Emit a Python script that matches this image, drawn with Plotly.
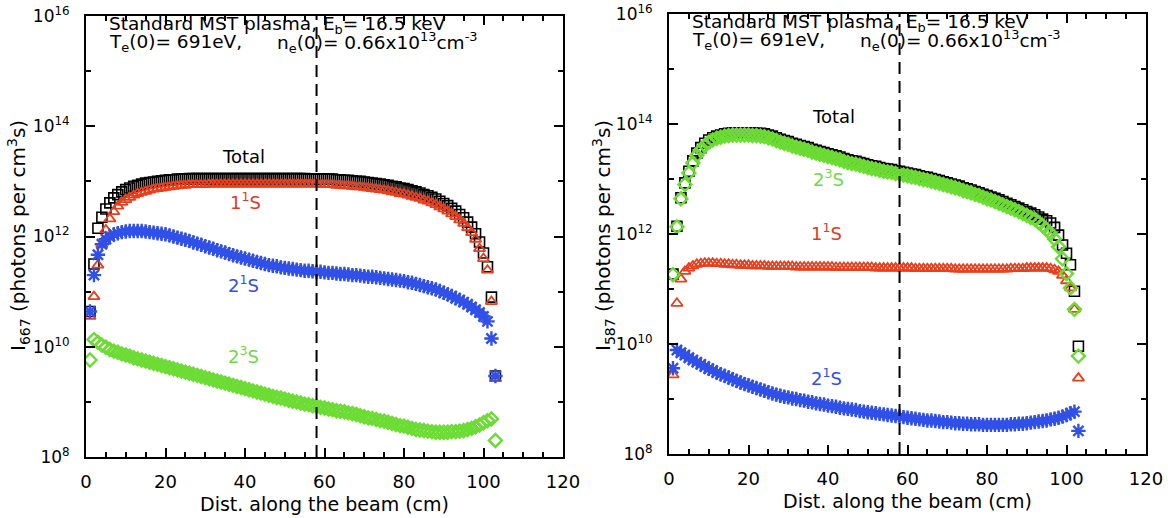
import numpy as np
import plotly.graph_objects as go

W, H = 1168, 518
FONT = "DejaVu Sans"

# ---------------- data (log10 of emission rate), x = distance along beam (cm)
dist_cm = list(range(1, 104))

# I_667 panel
l667_total = [10.64, 11.50, 12.15, 12.35, 12.50, 12.61, 12.70, 12.76, 12.81, 12.85,
              12.88, 12.91, 12.93, 12.95, 12.97, 12.98, 12.99, 13.00, 13.01, 13.02,
              13.03, 13.03, 13.04, 13.04, 13.04, 13.05, 13.05, 13.05, 13.05, 13.05,
              13.05, 13.05, 13.05, 13.05, 13.05, 13.05, 13.05, 13.05, 13.05, 13.05,
              13.05, 13.05, 13.05, 13.05, 13.05, 13.05, 13.05, 13.05, 13.05, 13.05,
              13.05, 13.05, 13.05, 13.05, 13.05, 13.04, 13.04, 13.04, 13.04, 13.04,
              13.04, 13.04, 13.03, 13.03, 13.02, 13.02, 13.01, 13.00, 13.00, 12.99,
              12.98, 12.97, 12.96, 12.95, 12.94, 12.93, 12.91, 12.90, 12.88, 12.87,
              12.85, 12.83, 12.81, 12.79, 12.76, 12.74, 12.71, 12.68, 12.64, 12.60,
              12.56, 12.51, 12.46, 12.40, 12.34, 12.26, 12.17, 12.05, 11.90, 11.70,
              11.45, 10.90, 9.47]
l667_1s1 = [10.55, 10.91, 11.48, 11.85, 12.12, 12.32, 12.45, 12.55, 12.62, 12.67,
            12.71, 12.75, 12.78, 12.80, 12.82, 12.84, 12.86, 12.87, 12.88, 12.89,
            12.90, 12.91, 12.92, 12.93, 12.93, 12.94, 12.94, 12.94, 12.94, 12.94,
            12.95, 12.95, 12.95, 12.95, 12.95, 12.95, 12.95, 12.95, 12.95, 12.95,
            12.95, 12.95, 12.95, 12.95, 12.95, 12.95, 12.95, 12.95, 12.95, 12.95,
            12.95, 12.95, 12.95, 12.95, 12.95, 12.95, 12.95, 12.95, 12.94, 12.94,
            12.94, 12.94, 12.93, 12.93, 12.92, 12.92, 12.91, 12.90, 12.90, 12.89,
            12.88, 12.87, 12.86, 12.85, 12.84, 12.83, 12.81, 12.80, 12.78, 12.77,
            12.75, 12.73, 12.71, 12.69, 12.66, 12.64, 12.61, 12.58, 12.54, 12.50,
            12.46, 12.41, 12.36, 12.30, 12.24, 12.16, 12.07, 11.95, 11.78, 11.60,
            11.39, 10.82, 9.42]
l667_2s1 = [10.64, 11.30, 11.67, 11.86, 11.95, 12.00, 12.04, 12.06, 12.08, 12.09,
            12.10, 12.10, 12.10, 12.10, 12.09, 12.08, 12.07, 12.06, 12.05, 12.04,
            12.02, 12.00, 11.98, 11.96, 11.94, 11.92, 11.89, 11.87, 11.85, 11.82,
            11.80, 11.78, 11.75, 11.73, 11.71, 11.68, 11.66, 11.64, 11.62, 11.60,
            11.58, 11.56, 11.54, 11.52, 11.50, 11.48, 11.47, 11.46, 11.44, 11.43,
            11.42, 11.41, 11.40, 11.39, 11.38, 11.38, 11.37, 11.36, 11.36, 11.35,
            11.34, 11.34, 11.33, 11.32, 11.32, 11.31, 11.30, 11.30, 11.29, 11.28,
            11.27, 11.27, 11.26, 11.25, 11.24, 11.23, 11.22, 11.21, 11.20, 11.19,
            11.17, 11.16, 11.14, 11.12, 11.10, 11.08, 11.06, 11.04, 11.01, 10.98,
            10.95, 10.92, 10.88, 10.85, 10.81, 10.77, 10.72, 10.67, 10.62, 10.55,
            10.46, 10.15, 9.47]
l667_2s3 = [9.76, 10.13, 10.08, 10.03, 9.99, 9.95, 9.92, 9.90, 9.87, 9.85,
            9.83, 9.80, 9.78, 9.76, 9.74, 9.72, 9.70, 9.68, 9.66, 9.64,
            9.62, 9.60, 9.58, 9.56, 9.54, 9.52, 9.50, 9.48, 9.46, 9.44,
            9.42, 9.40, 9.38, 9.36, 9.34, 9.32, 9.30, 9.28, 9.26, 9.24,
            9.22, 9.20, 9.18, 9.16, 9.14, 9.12, 9.10, 9.08, 9.07, 9.05,
            9.03, 9.01, 9.00, 8.98, 8.96, 8.95, 8.93, 8.92, 8.90, 8.89,
            8.87, 8.86, 8.84, 8.83, 8.82, 8.80, 8.79, 8.77, 8.75, 8.73,
            8.71, 8.70, 8.68, 8.66, 8.65, 8.63, 8.61, 8.59, 8.57, 8.56,
            8.54, 8.52, 8.50, 8.49, 8.48, 8.47, 8.46, 8.45, 8.45, 8.45,
            8.45, 8.46, 8.46, 8.47, 8.48, 8.50, 8.52, 8.55, 8.58, 8.62,
            8.66, 8.69, 8.30]

# I_587 panel
l587_total = [11.27, 12.14, 12.66, 12.93, 13.14, 13.33, 13.47, 13.57, 13.65, 13.71,
              13.75, 13.78, 13.80, 13.82, 13.83, 13.84, 13.84, 13.84, 13.84, 13.84,
              13.84, 13.83, 13.83, 13.82, 13.80, 13.78, 13.75, 13.72, 13.70, 13.68,
              13.65, 13.63, 13.61, 13.59, 13.57, 13.54, 13.52, 13.50, 13.48, 13.46,
              13.44, 13.42, 13.40, 13.37, 13.35, 13.33, 13.32, 13.30, 13.28, 13.26,
              13.24, 13.23, 13.21, 13.19, 13.18, 13.17, 13.15, 13.14, 13.12, 13.11,
              13.09, 13.08, 13.06, 13.04, 13.03, 13.01, 12.99, 12.97, 12.95, 12.93,
              12.91, 12.89, 12.87, 12.84, 12.82, 12.80, 12.77, 12.75, 12.72, 12.70,
              12.67, 12.65, 12.62, 12.59, 12.56, 12.53, 12.50, 12.47, 12.44, 12.41,
              12.38, 12.35, 12.31, 12.27, 12.24, 12.20, 12.12, 11.98, 11.80, 11.65,
              11.44, 10.96, 9.96]
l587_2s3 = [11.26, 12.13, 12.64, 12.90, 13.11, 13.29, 13.43, 13.53, 13.61, 13.67,
            13.71, 13.74, 13.76, 13.78, 13.79, 13.80, 13.80, 13.80, 13.80, 13.80,
            13.79, 13.79, 13.78, 13.77, 13.75, 13.73, 13.70, 13.67, 13.65, 13.63,
            13.60, 13.58, 13.56, 13.54, 13.52, 13.49, 13.47, 13.45, 13.43, 13.41,
            13.39, 13.37, 13.35, 13.32, 13.30, 13.28, 13.27, 13.25, 13.23, 13.21,
            13.19, 13.18, 13.16, 13.14, 13.13, 13.12, 13.10, 13.09, 13.07, 13.06,
            13.04, 13.03, 13.01, 12.99, 12.98, 12.96, 12.94, 12.92, 12.90, 12.88,
            12.86, 12.84, 12.82, 12.79, 12.77, 12.75, 12.72, 12.70, 12.67, 12.64,
            12.62, 12.59, 12.56, 12.53, 12.50, 12.47, 12.44, 12.41, 12.37, 12.34,
            12.30, 12.27, 12.21, 12.15, 12.08, 12.01, 11.91, 11.77, 11.55, 11.28,
            11.02, 10.63, 9.78]
l587_1s1 = [9.44, 10.74, 11.18, 11.32, 11.38, 11.42, 11.45, 11.46, 11.47, 11.47,
            11.47, 11.46, 11.46, 11.45, 11.45, 11.44, 11.44, 11.43, 11.43, 11.43,
            11.42, 11.42, 11.42, 11.42, 11.41, 11.41, 11.41, 11.41, 11.41, 11.41,
            11.41, 11.40, 11.40, 11.40, 11.40, 11.40, 11.40, 11.40, 11.40, 11.40,
            11.40, 11.39, 11.39, 11.39, 11.39, 11.39, 11.39, 11.39, 11.39, 11.39,
            11.39, 11.38, 11.38, 11.38, 11.38, 11.38, 11.38, 11.38, 11.38, 11.38,
            11.38, 11.37, 11.37, 11.37, 11.37, 11.37, 11.37, 11.37, 11.37, 11.37,
            11.37, 11.36, 11.36, 11.36, 11.36, 11.36, 11.36, 11.36, 11.36, 11.36,
            11.36, 11.36, 11.36, 11.36, 11.36, 11.37, 11.37, 11.37, 11.37, 11.38,
            11.38, 11.38, 11.38, 11.38, 11.38, 11.37, 11.35, 11.32, 11.25, 11.15,
            11.02, 10.63, 9.38]
l587_2s1 = [9.56, 9.89, 9.84, 9.80, 9.75, 9.71, 9.67, 9.63, 9.59, 9.55,
            9.52, 9.48, 9.45, 9.42, 9.39, 9.36, 9.33, 9.30, 9.27, 9.25,
            9.22, 9.20, 9.17, 9.15, 9.12, 9.10, 9.08, 9.06, 9.04, 9.03,
            9.01, 9.00, 8.98, 8.97, 8.95, 8.94, 8.92, 8.91, 8.90, 8.88,
            8.87, 8.86, 8.84, 8.83, 8.82, 8.81, 8.80, 8.78, 8.77, 8.76,
            8.75, 8.74, 8.73, 8.72, 8.71, 8.70, 8.69, 8.68, 8.67, 8.66,
            8.65, 8.64, 8.63, 8.62, 8.61, 8.61, 8.60, 8.59, 8.58, 8.58,
            8.57, 8.56, 8.56, 8.55, 8.55, 8.54, 8.54, 8.54, 8.53, 8.53,
            8.53, 8.53, 8.53, 8.53, 8.53, 8.54, 8.54, 8.55, 8.55, 8.56,
            8.57, 8.58, 8.59, 8.60, 8.61, 8.63, 8.64, 8.66, 8.68, 8.71,
            8.74, 8.77, 8.42]

for arr in (l667_total, l667_1s1, l667_2s1, l667_2s3,
            l587_total, l587_2s3, l587_1s1, l587_2s1):
    assert len(arr) == len(dist_cm), len(arr)

dashed_cm = 58
x_ticks = [0, 20, 40, 60, 80, 100, 120]
y_major = [1e8, 1e10, 1e12, 1e14, 1e16]
y_major_text = ["10<sup>8</sup>", "10<sup>10</sup>", "10<sup>12</sup>",
                "10<sup>14</sup>", "10<sup>16</sup>"]
y_minor = [1e9, 1e11, 1e13, 1e15]

C_BLACK = "#000000"
C_RED = "#e8401e"
C_BLUE = "#3050e8"
C_GREEN = "#6cdc34"

# ---------------- figure
fig = go.Figure()


def add_series(logvals, xa, ya, symbol, color, size, lw):
    fig.add_trace(go.Scatter(
        x=dist_cm, y=10 ** np.array(logvals), mode="markers",
        xaxis=xa, yaxis=ya, showlegend=False,
        marker=dict(symbol=symbol, size=size, color=color,
                    line=dict(color=color, width=lw))))


# left panel (draw order: total, 1s1, 2s1, 2s3)
add_series(l667_total, "x", "y", "square-open", C_BLACK, 10, 1.6)
add_series(l667_1s1, "x", "y", "triangle-up-open", C_RED, 10, 1.8)
add_series(l667_2s1, "x", "y", "asterisk-open", C_BLUE, 12, 2.4)
add_series(l667_2s3, "x", "y", "diamond-open", C_GREEN, 10, 2.4)

# right panel
add_series(l587_total, "x2", "y2", "square-open", C_BLACK, 10, 1.6)
add_series(l587_1s1, "x2", "y2", "triangle-up-open", C_RED, 10, 1.8)
add_series(l587_2s1, "x2", "y2", "asterisk-open", C_BLUE, 12, 2.4)
add_series(l587_2s3, "x2", "y2", "diamond-open", C_GREEN, 10, 2.4)


def xaxis(domain, anchor):
    return dict(domain=domain, anchor=anchor, range=[0, 120], automargin=False,
                tickmode="array", tickvals=x_ticks,
                ticks="inside", ticklen=9, tickwidth=1.5, tickcolor="black",
                showline=True, linecolor="black", linewidth=2,
                mirror="allticks", showgrid=False, zeroline=False,
                minor=dict(dtick=5, ticks="inside", ticklen=5, tickwidth=1.5,
                           tickcolor="black", showgrid=False),
                tickfont=dict(family=FONT, size=18, color="black"),
                ticklabelstandoff=7)


def yaxis(domain, anchor):
    return dict(domain=domain, anchor=anchor, type="log", range=[8, 16],
                automargin=False,
                tickmode="array", tickvals=y_major, ticktext=y_major_text,
                ticks="inside", ticklen=9, tickwidth=1.5, tickcolor="black",
                showline=True, linecolor="black", linewidth=2,
                mirror="allticks", showgrid=False, zeroline=False,
                minor=dict(tickvals=y_minor, ticks="inside", ticklen=5,
                           tickwidth=1.5, tickcolor="black", showgrid=False),
                tickfont=dict(family=FONT, size=17, color="black"),
                ticklabelstandoff=11)


L = dict(x0=86, x1=563, top=16, bot=457)
R = dict(x0=669, x1=1146, top=14, bot=454)

fig.update_layout(
    width=W, height=H, margin=dict(l=0, r=0, t=0, b=0, autoexpand=False),
    paper_bgcolor="white", plot_bgcolor="white",
    xaxis=xaxis([L["x0"] / W, L["x1"] / W], "y"),
    yaxis=yaxis([1 - L["bot"] / H, 1 - L["top"] / H], "x"),
    xaxis2=xaxis([R["x0"] / W, R["x1"] / W], "y2"),
    yaxis2=yaxis([1 - R["bot"] / H, 1 - R["top"] / H], "x2"),
)

# dashed vertical lines
for xr, yr in (("x", "y domain"), ("x2", "y2 domain")):
    fig.add_shape(type="line", xref=xr, yref=yr, x0=dashed_cm, x1=dashed_cm,
                  y0=0, y1=1, line=dict(color="black", width=2, dash="12px,7px"))

annots = []


def ann(text, xp, yp, size, xanchor="left", angle=0):
    annots.append(dict(text=text, x=xp / W, y=1 - yp / H, xref="paper",
                       yref="paper", xanchor=xanchor, yanchor="middle",
                       showarrow=False, textangle=angle,
                       font=dict(family=FONT, size=size, color="black")))


for P, ylab, ytx in ((L, "I<sub>667</sub> (photons per cm<sup>3</sup>s)", 18),
                     (R, "I<sub>587</sub> (photons per cm<sup>3</sup>s)", 603)):
    ox = P["x0"]
    ann("Standard MST plasma, E<sub>b</sub>= 16.5 keV", ox + 21, P["top"] + 9, 18.5)
    ann("T<sub>e</sub>(0)= 691eV,", ox + 21, P["top"] + 27, 18.5)
    ann("n<sub>e</sub>(0)= 0.66x10<sup>13</sup>cm<sup>-3</sup>", ox + 189, P["top"] + 27, 18.5)
    ann("Dist. along the beam (cm)", (P["x0"] + P["x1"]) / 2, P["bot"] + 47, 19,
        xanchor="center")
    ann(ylab, ytx, 236, 20, xanchor="center", angle=-90)

fig.update_layout(annotations=annots)

# curve labels (data coordinates; log axes take log10 positions)
lab_font = lambda c: dict(family=FONT, size=18, color=c)
labels_left = [("Total", 39.5, 13.45, C_BLACK), ("1<sup>1</sup>S", 40, 12.65, "#e03a22"),
               ("2<sup>1</sup>S", 39.5, 11.13, C_BLUE), ("2<sup>3</sup>S", 39.5, 9.85, "#72d84a")]
labels_right = [("Total", 41.3, 14.13, C_BLACK), ("2<sup>3</sup>S", 40, 13.02, "#72d84a"),
                ("1<sup>1</sup>S", 39.5, 12.04, "#e03a22"), ("2<sup>1</sup>S", 39.5, 9.4, C_BLUE)]
for labs, xr, yr in ((labels_left, "x", "y"), (labels_right, "x2", "y2")):
    for t, xv, lv, c in labs:
        fig.add_annotation(text=t, x=xv, y=lv, xref=xr, yref=yr, showarrow=False,
                           font=lab_font(c), xanchor="center", yanchor="middle")

fig.write_html("out.html")
